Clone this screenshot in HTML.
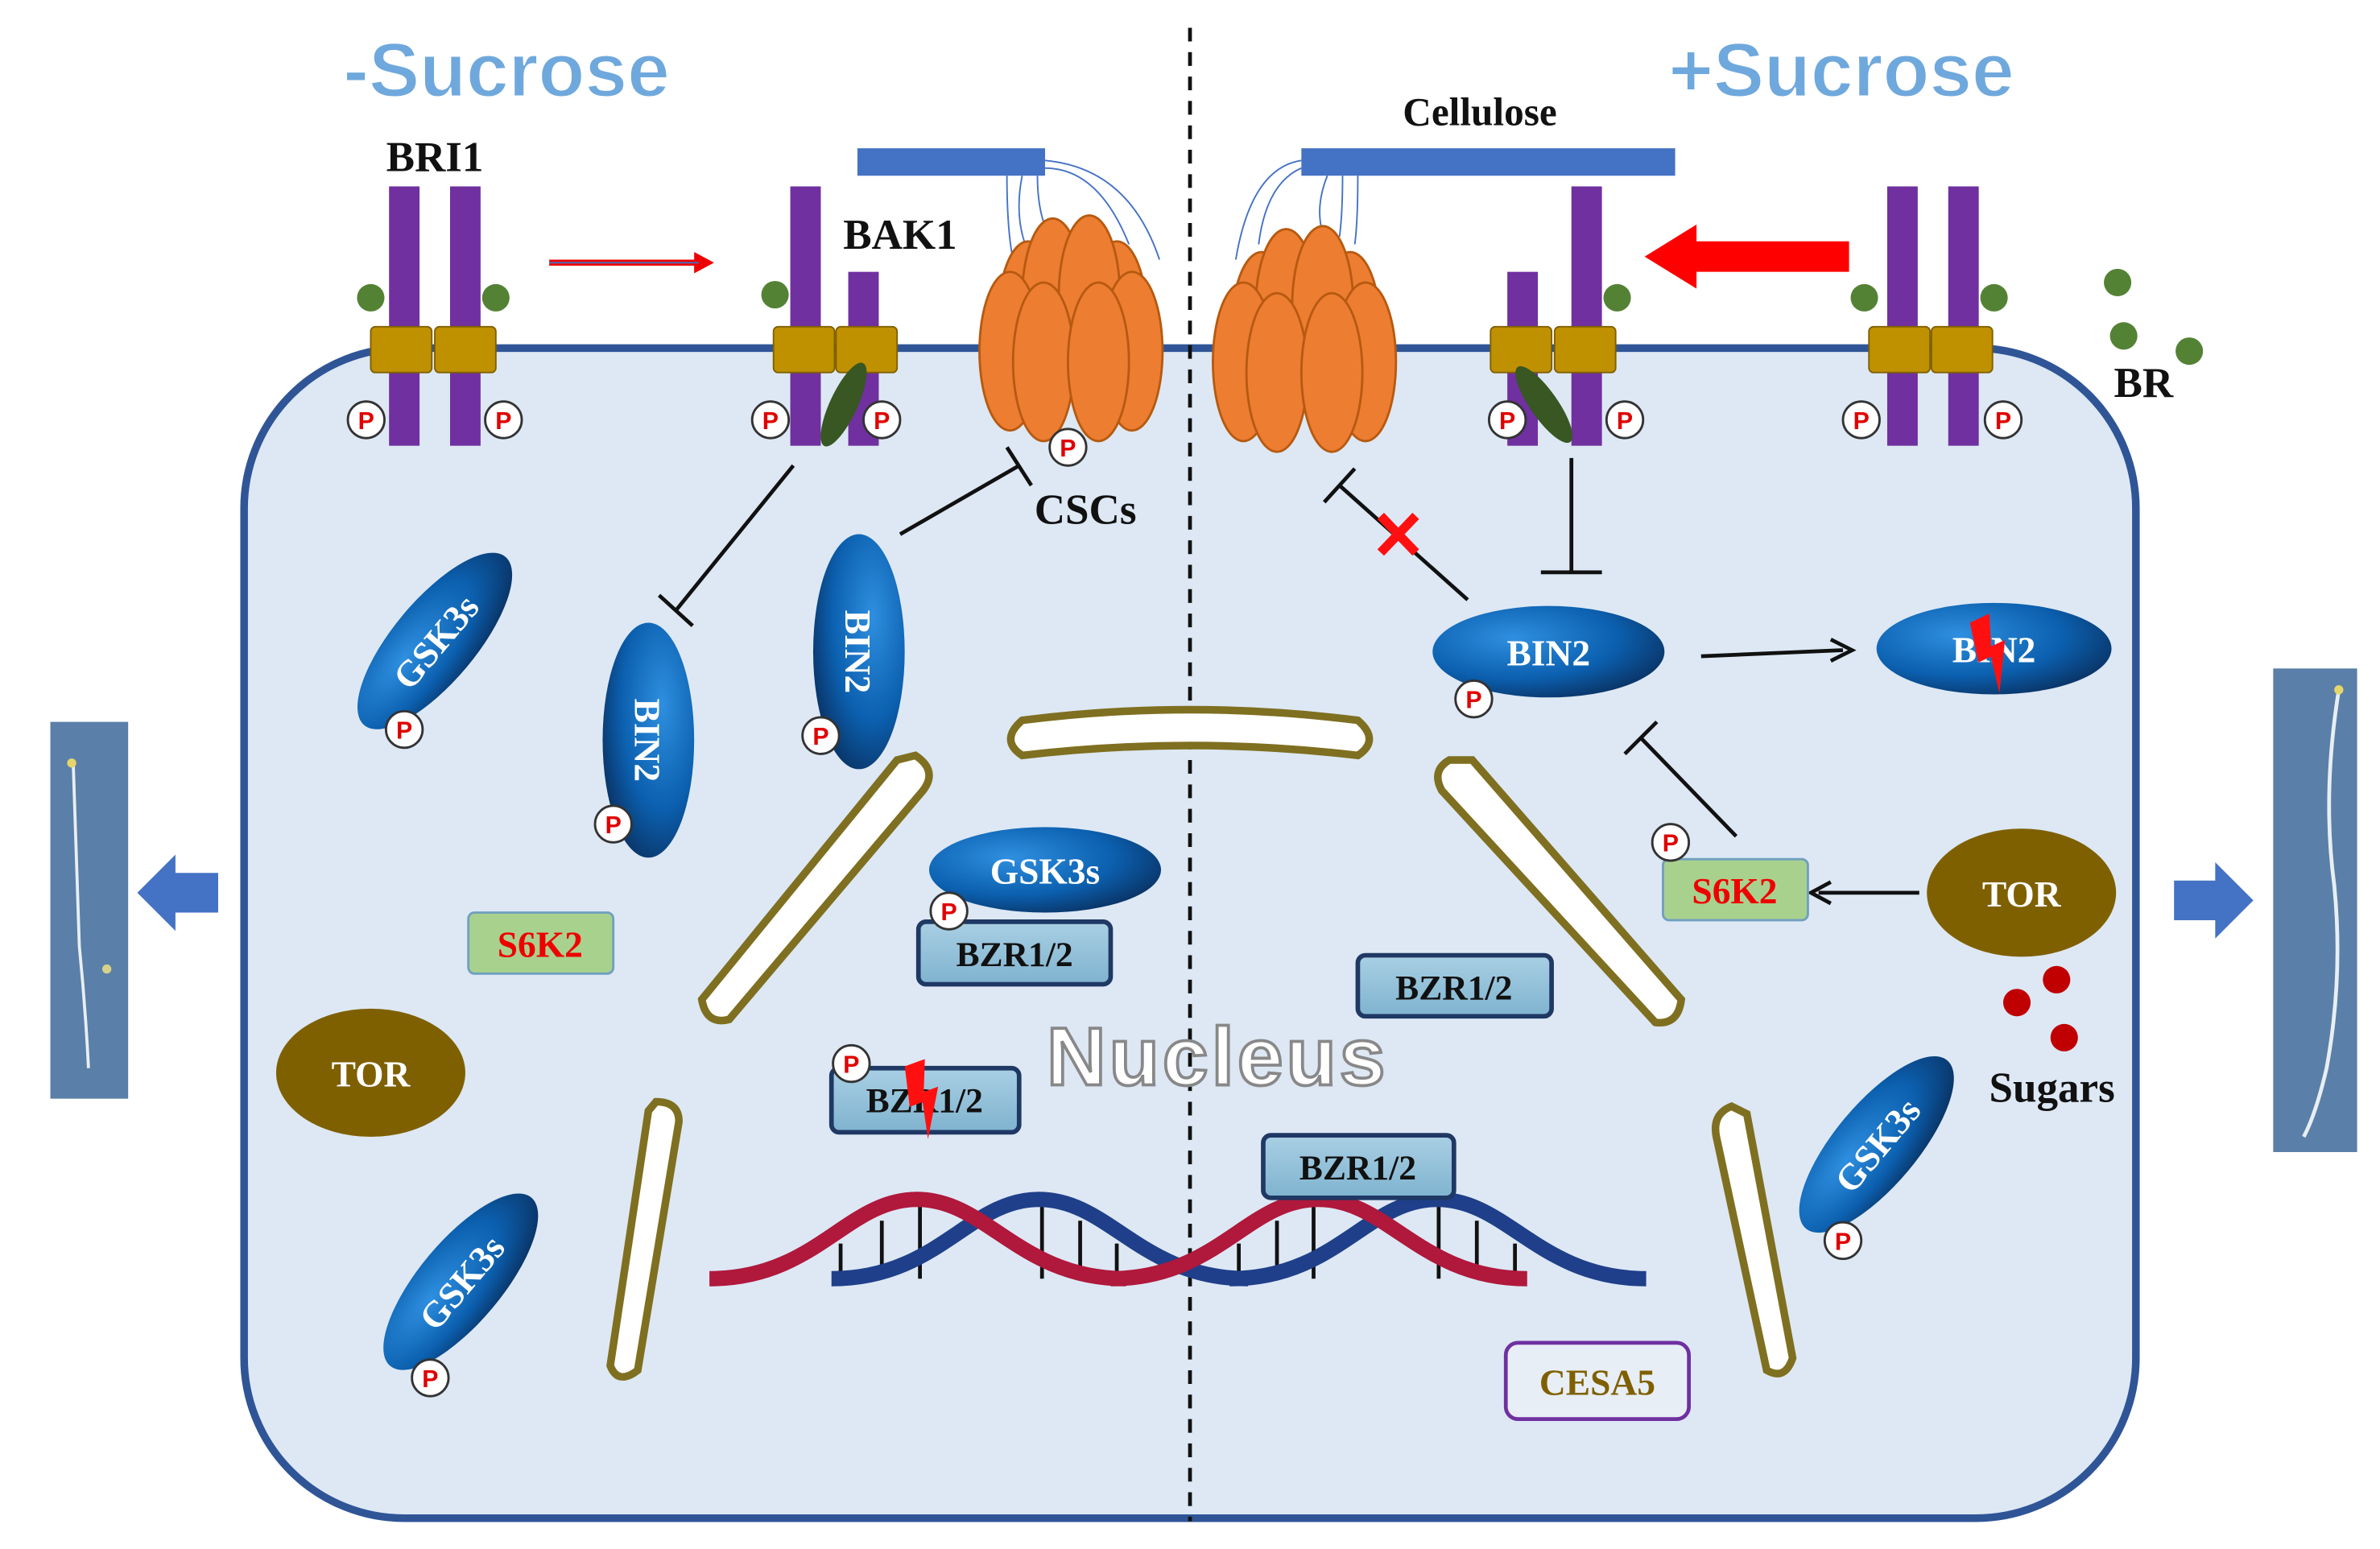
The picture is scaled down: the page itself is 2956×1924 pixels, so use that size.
<!DOCTYPE html>
<html><head><meta charset="utf-8"><style>
html,body{margin:0;padding:0;background:#fff;}
svg{display:block;}
text{font-family:"Liberation Serif",serif;font-weight:bold;}
</style></head><body>
<svg width="2956" height="1924" viewBox="0 0 1560 1015" xmlns="http://www.w3.org/2000/svg">
<defs>
<radialGradient id="bg" cx="35%" cy="35%" r="75%"><stop offset="0" stop-color="#2f8fe0"/><stop offset="0.6" stop-color="#0b5fae"/><stop offset="1" stop-color="#0a2f5e"/></radialGradient>
<linearGradient id="bz" x1="0" y1="0" x2="0" y2="1"><stop offset="0" stop-color="#a9cfe4"/><stop offset="1" stop-color="#7fb3cf"/></linearGradient>
<g id="P"><circle r="12" fill="#fff" stroke="#333" stroke-width="1.5"/><text y="6" text-anchor="middle" font-size="16" fill="#e00000" style="font-family:'Liberation Sans',sans-serif">P</text></g>
<g id="bolt"><polygon points="-4,-24 10,-24 2,-4 12,-4 -6,26 -1,2 -10,2" fill="#ff1010"/></g>
<g id="csc">
<ellipse cx="-28" cy="-5" rx="20" ry="52" fill="#ed7d31" stroke="#b65a10" stroke-width="1.5"/>
<ellipse cx="30" cy="-5" rx="20" ry="52" fill="#ed7d31" stroke="#b65a10" stroke-width="1.5"/>
<ellipse cx="-12" cy="-20" rx="20" ry="52" fill="#ed7d31" stroke="#b65a10" stroke-width="1.5"/>
<ellipse cx="12" cy="-22" rx="20" ry="52" fill="#ed7d31" stroke="#b65a10" stroke-width="1.5"/>
<ellipse cx="-40" cy="15" rx="20" ry="52" fill="#ed7d31" stroke="#b65a10" stroke-width="1.5"/>
<ellipse cx="40" cy="15" rx="20" ry="52" fill="#ed7d31" stroke="#b65a10" stroke-width="1.5"/>
<ellipse cx="-18" cy="22" rx="20" ry="52" fill="#ed7d31" stroke="#b65a10" stroke-width="1.5"/>
<ellipse cx="18" cy="22" rx="20" ry="52" fill="#ed7d31" stroke="#b65a10" stroke-width="1.5"/>
</g>
<path id="hump" d="M0 838 C70 838 90 786 136 786 C182 786 203 838 273 838" fill="none" stroke-width="10"/>
</defs>

<!-- titles -->
<text x="332" y="63" text-anchor="middle" font-size="50" fill="#6fa8dc" stroke="#fff" stroke-width="1" style="font-family:'Liberation Sans',sans-serif">-Sucrose</text>
<text x="1207" y="63" text-anchor="middle" font-size="50" fill="#6fa8dc" stroke="#fff" stroke-width="1" style="font-family:'Liberation Sans',sans-serif">+Sucrose</text>

<!-- cell -->
<rect x="160" y="228" width="1240" height="767" rx="105" fill="#dde8f4" stroke="#2f5597" stroke-width="5"/>

<!-- dashed -->
<line x1="780" y1="18" x2="780" y2="997" stroke="#111" stroke-width="2.5" stroke-dasharray="9,7"/>

<!-- cellulose bars -->
<rect x="562" y="97" width="123" height="18" fill="#4472c4"/>
<rect x="853" y="97" width="245" height="18" fill="#4472c4"/>
<g stroke="#4472c4" stroke-width="1" fill="none">
<path d="M670 115 Q665 140 672 160"/><path d="M680 115 Q680 140 688 155"/><path d="M685 110 Q720 110 740 160"/><path d="M685 105 Q740 110 760 170"/><path d="M660 115 Q660 150 664 170"/>
<path d="M870 115 Q860 140 870 160"/><path d="M880 115 Q880 140 878 155"/><path d="M890 115 Q890 145 888 160"/><path d="M853 105 Q820 110 810 170"/><path d="M853 110 Q830 120 825 160"/>
</g>
<text x="970" y="82" text-anchor="middle" font-size="26" fill="#111">Cellulose</text>

<!-- CSCs -->
<use href="#csc" x="702" y="215"/>
<use href="#csc" x="855" y="222"/>
<use href="#P" x="700" y="293"/>
<text x="678" y="343" font-size="28" fill="#111">CSCs</text>

<!-- receptors left -->
<g>
<rect x="255" y="122" width="20" height="170" fill="#7030a0"/><rect x="295" y="122" width="20" height="170" fill="#7030a0"/>
<rect x="243" y="214" width="40" height="30" rx="3" fill="#bf9000" stroke="#806000"/><rect x="285" y="214" width="40" height="30" rx="3" fill="#bf9000" stroke="#806000"/>
<circle cx="243" cy="195" r="9" fill="#548235"/><circle cx="325" cy="195" r="9" fill="#548235"/>
<use href="#P" x="240" y="275"/><use href="#P" x="330" y="275"/>
</g>
<text x="285" y="112" text-anchor="middle" font-size="28" fill="#111">BRI1</text>
<line x1="360" y1="172" x2="458" y2="172" stroke="#e00" stroke-width="4"/>
<polygon points="468,172 455,165 455,179" fill="#e00"/>
<line x1="360" y1="172" x2="458" y2="172" stroke="#4472c4" stroke-width="1"/>

<g>
<rect x="518" y="122" width="20" height="170" fill="#7030a0"/><rect x="556" y="178" width="20" height="114" fill="#7030a0"/>
<rect x="507" y="214" width="40" height="30" rx="3" fill="#bf9000" stroke="#806000"/><rect x="548" y="214" width="40" height="30" rx="3" fill="#bf9000" stroke="#806000"/>
<ellipse cx="553" cy="265" rx="9" ry="30" transform="rotate(25 553 265)" fill="#385723"/>
<circle cx="508" cy="193" r="9" fill="#548235"/>
<use href="#P" x="505" y="275"/><use href="#P" x="578" y="275"/>
</g>
<text x="590" y="163" text-anchor="middle" font-size="28" fill="#111">BAK1</text>

<!-- receptors right -->
<g>
<rect x="1030" y="122" width="20" height="170" fill="#7030a0"/><rect x="988" y="178" width="20" height="114" fill="#7030a0"/>
<rect x="977" y="214" width="40" height="30" rx="3" fill="#bf9000" stroke="#806000"/><rect x="1019" y="214" width="40" height="30" rx="3" fill="#bf9000" stroke="#806000"/>
<ellipse cx="1012" cy="265" rx="9" ry="30" transform="rotate(-35 1012 265)" fill="#385723"/>
<circle cx="1060" cy="195" r="9" fill="#548235"/>
<use href="#P" x="988" y="275"/><use href="#P" x="1065" y="275"/>
</g>
<polygon points="1212,158 1112,158 1112,147 1078,168 1112,189 1112,178 1212,178" fill="#ff0000"/>
<g>
<rect x="1237" y="122" width="20" height="170" fill="#7030a0"/><rect x="1277" y="122" width="20" height="170" fill="#7030a0"/>
<rect x="1225" y="214" width="40" height="30" rx="3" fill="#bf9000" stroke="#806000"/><rect x="1266" y="214" width="40" height="30" rx="3" fill="#bf9000" stroke="#806000"/>
<circle cx="1222" cy="195" r="9" fill="#548235"/><circle cx="1307" cy="195" r="9" fill="#548235"/>
<use href="#P" x="1220" y="275"/><use href="#P" x="1313" y="275"/>
</g>
<circle cx="1388" cy="185" r="9" fill="#548235"/><circle cx="1392" cy="220" r="9" fill="#548235"/><circle cx="1435" cy="230" r="9" fill="#548235"/>
<text x="1405" y="260" text-anchor="middle" font-size="28" fill="#111">BR</text>

<!-- inhibition lines -->
<g stroke="#111" stroke-width="2.5">
<line x1="520" y1="305" x2="443" y2="400"/><line x1="432" y1="390" x2="454" y2="410"/>
<line x1="590" y1="350" x2="668" y2="305"/><line x1="660" y1="293" x2="676" y2="318"/>
<line x1="1030" y1="300" x2="1030" y2="375"/><line x1="1010" y1="375" x2="1050" y2="375"/>
<line x1="962" y1="393" x2="878" y2="318"/><line x1="868" y1="329" x2="888" y2="307"/>
<line x1="1138" y1="548" x2="1075" y2="483"/><line x1="1065" y1="494" x2="1086" y2="473"/>
<line x1="1258" y1="585" x2="1192" y2="585"/>
<line x1="1115" y1="430" x2="1208" y2="426"/>
</g>
<polyline points="1200,419 1214,426 1200,433" fill="none" stroke="#111" stroke-width="2.5"/>
<polyline points="1200,578 1187,585 1200,592" fill="none" stroke="#111" stroke-width="2.5"/>
<g stroke="#ff1010" stroke-width="6"><line x1="905" y1="338" x2="928" y2="362"/><line x1="928" y1="338" x2="905" y2="362"/></g>

<!-- nucleus envelope -->
<g fill="#fff" stroke="#7f6f20" stroke-width="5">
<path d="M670 472 Q780 458 890 472 Q905 485 890 495 Q780 482 670 495 Q655 485 670 472Z"/>
<path d="M600 495 Q615 505 605 518 L478 668 Q463 672 460 655 L588 498Z"/>
<path d="M950 498 Q938 505 945 518 L1085 670 Q1100 672 1102 655 L965 498Z"/>
<path d="M430 722 Q445 722 445 735 L418 898 Q405 908 400 895 L425 728Z"/>
<path d="M1135 725 Q1122 730 1125 745 L1158 898 Q1170 905 1175 890 L1145 730Z"/>
</g>

<!-- DNA -->
<g>
<g stroke="#111" stroke-width="2.5">
<line x1="551" y1="815" x2="551" y2="838"/><line x1="578" y1="800" x2="578" y2="838"/><line x1="603" y1="788" x2="603" y2="838"/>
<line x1="683" y1="788" x2="683" y2="838"/><line x1="708" y1="800" x2="708" y2="838"/><line x1="732" y1="815" x2="732" y2="838"/>
<line x1="812" y1="815" x2="812" y2="838"/><line x1="837" y1="800" x2="837" y2="838"/><line x1="861" y1="788" x2="861" y2="838"/>
<line x1="943" y1="788" x2="943" y2="838"/><line x1="968" y1="800" x2="968" y2="838"/><line x1="993" y1="815" x2="993" y2="838"/>
</g>
<use href="#hump" x="545" y="0" stroke="#1f3f8a"/>
<use href="#hump" x="465" y="0" stroke="#b0183c"/>
<use href="#hump" x="806" y="0" stroke="#1f3f8a"/>
<use href="#hump" x="728" y="0" stroke="#b0183c"/>
</g>

<!-- Nucleus text -->
<text x="798" y="711" text-anchor="middle" font-size="54" fill="#fff" stroke="#888" stroke-width="2" letter-spacing="2" style="font-family:'Liberation Sans',sans-serif">Nucleus</text>

<!-- left proteins -->
<g transform="rotate(-50 285 420)"><ellipse cx="285" cy="420" rx="72" ry="27" fill="url(#bg)"/><text x="285" y="429" text-anchor="middle" font-size="24" fill="#fff">GSK3s</text></g>
<use href="#P" x="265" y="478"/>
<g transform="rotate(90 425 485)"><ellipse cx="425" cy="485" rx="77" ry="30" fill="url(#bg)"/><text x="425" y="494" text-anchor="middle" font-size="24" fill="#fff">BIN2</text></g>
<use href="#P" x="402" y="540"/>
<g transform="rotate(90 563 427)"><ellipse cx="563" cy="427" rx="77" ry="30" fill="url(#bg)"/><text x="563" y="436" text-anchor="middle" font-size="24" fill="#fff">BIN2</text></g>
<use href="#P" x="538" y="482"/>
<g transform="rotate(-50 302 840)"><ellipse cx="302" cy="840" rx="72" ry="27" fill="url(#bg)"/><text x="302" y="849" text-anchor="middle" font-size="24" fill="#fff">GSK3s</text></g>
<use href="#P" x="282" y="903"/>
<rect x="307" y="598" width="95" height="40" rx="4" fill="#a9d18e" stroke="#6f9fbf" stroke-width="1.5"/>
<text x="354" y="627" text-anchor="middle" font-size="24" fill="#e00">S6K2</text>
<ellipse cx="243" cy="703" rx="62" ry="42" fill="#7f6000"/>
<text x="243" y="712" text-anchor="middle" font-size="24" fill="#fff">TOR</text>

<ellipse cx="685" cy="570" rx="76" ry="28" fill="url(#bg)"/>
<text x="685" y="579" text-anchor="middle" font-size="24" fill="#fff">GSK3s</text>
<rect x="602" y="604" width="126" height="41" rx="5" fill="url(#bz)" stroke="#1f3864" stroke-width="3"/>
<text x="665" y="633" text-anchor="middle" font-size="23" fill="#111">BZR1/2</text>
<use href="#P" x="622" y="597"/>
<rect x="545" y="700" width="123" height="42" rx="5" fill="url(#bz)" stroke="#1f3864" stroke-width="3"/>
<text x="606" y="729" text-anchor="middle" font-size="23" fill="#111">BZR1/2</text>
<use href="#bolt" x="605" y="720" transform="rotate(-20 605 720)"/>
<use href="#P" x="558" y="697"/>

<!-- right proteins -->
<rect x="890" y="626" width="127" height="40" rx="5" fill="url(#bz)" stroke="#1f3864" stroke-width="3"/>
<text x="953" y="655" text-anchor="middle" font-size="23" fill="#111">BZR1/2</text>
<rect x="828" y="744" width="125" height="41" rx="5" fill="url(#bz)" stroke="#1f3864" stroke-width="3"/>
<text x="890" y="773" text-anchor="middle" font-size="23" fill="#111">BZR1/2</text>

<ellipse cx="1015" cy="427" rx="76" ry="30" fill="url(#bg)"/>
<text x="1015" y="436" text-anchor="middle" font-size="24" fill="#fff">BIN2</text>
<use href="#P" x="966" y="458"/>
<ellipse cx="1307" cy="425" rx="77" ry="30" fill="url(#bg)"/>
<text x="1307" y="434" text-anchor="middle" font-size="24" fill="#fff">BIN2</text>
<use href="#bolt" x="1305" y="428" transform="rotate(-25 1305 428)"/>

<rect x="1090" y="563" width="95" height="40" rx="4" fill="#a9d18e" stroke="#6f9fbf" stroke-width="1.5"/>
<text x="1137" y="592" text-anchor="middle" font-size="24" fill="#e00">S6K2</text>
<use href="#P" x="1095" y="552"/>
<ellipse cx="1325" cy="585" rx="62" ry="42" fill="#7f6000"/>
<text x="1325" y="594" text-anchor="middle" font-size="24" fill="#fff">TOR</text>
<circle cx="1322" cy="657" r="9" fill="#c00000"/><circle cx="1348" cy="642" r="9" fill="#c00000"/><circle cx="1353" cy="680" r="9" fill="#c00000"/>
<text x="1345" y="722" text-anchor="middle" font-size="28" fill="#111">Sugars</text>
<g transform="rotate(-50 1230 750)"><ellipse cx="1230" cy="750" rx="72" ry="27" fill="url(#bg)"/><text x="1230" y="759" text-anchor="middle" font-size="24" fill="#fff">GSK3s</text></g>
<use href="#P" x="1208" y="813"/>

<rect x="987" y="880" width="120" height="50" rx="8" fill="#e8eef6" stroke="#7030a0" stroke-width="2.5"/>
<text x="1047" y="914" text-anchor="middle" font-size="24" fill="#7f6000">CESA5</text>

<!-- side arrows -->
<polygon points="90,585 115,560 115,572 143,572 143,598 115,598 115,610" fill="#4472c4"/>
<polygon points="1477,590 1452,565 1452,577 1425,577 1425,603 1452,603 1452,615" fill="#4472c4"/>

<!-- seedlings -->
<rect x="33" y="473" width="51" height="247" fill="#5a7fa8"/>
<path d="M48 500 Q50 560 52 620 Q56 660 58 700" stroke="#e8eef2" stroke-width="2" fill="none"/>
<circle cx="47" cy="500" r="3" fill="#e6d66a"/><circle cx="70" cy="635" r="3" fill="#d6d08a"/>
<rect x="1490" y="438" width="55" height="317" fill="#5a7fa8"/>
<path d="M1533 452 Q1522 520 1530 580 Q1536 640 1525 700 Q1518 730 1510 745" stroke="#e8eef2" stroke-width="2.5" fill="none"/>
<circle cx="1533" cy="452" r="3" fill="#e6d66a"/>
</svg>
</body></html>
